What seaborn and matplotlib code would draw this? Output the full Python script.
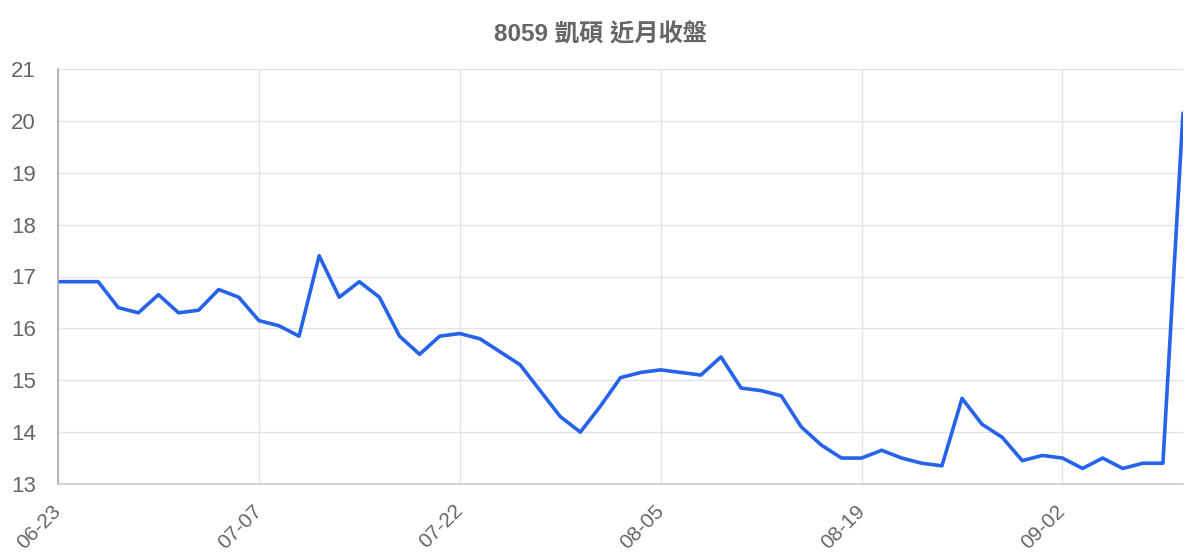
import matplotlib
matplotlib.use("Agg")
import matplotlib.pyplot as plt
import seaborn as sns
import pandas as pd

dates = ["06-23", "06-24", "06-25", "06-26", "06-27",
         "06-30", "07-01", "07-02", "07-03", "07-04",
         "07-07", "07-08", "07-09", "07-10", "07-11",
         "07-14", "07-15", "07-16", "07-17", "07-18",
         "07-22", "07-23", "07-24", "07-25",
         "07-28", "07-29", "07-30", "07-31", "08-01",
         "08-04", "08-05", "08-06", "08-07", "08-08",
         "08-11", "08-12", "08-13", "08-14", "08-15",
         "08-18", "08-19", "08-20", "08-21", "08-22",
         "08-25", "08-26", "08-27", "08-28", "08-29",
         "09-01", "09-02", "09-03", "09-04", "09-05",
         "09-08", "09-09", "09-10"]
closes = [16.9, 16.9, 16.9, 16.4, 16.3, 16.65, 16.3, 16.35, 16.75, 16.6,
          16.15, 16.05, 15.85, 17.4, 16.6, 16.9, 16.6, 15.85, 15.5, 15.85,
          15.9, 15.8, 15.55, 15.3, 14.8, 14.3, 14.0, 14.5, 15.05, 15.15,
          15.2, 15.15, 15.1, 15.45, 14.85, 14.8, 14.7, 14.1, 13.75, 13.5,
          13.5, 13.65, 13.5, 13.4, 13.35, 14.65, 14.15, 13.9, 13.45, 13.55,
          13.5, 13.3, 13.5, 13.3, 13.4, 13.4, 20.15]
title = "8059 凱碩 近月收盤"
y_ticks = [13, 14, 15, 16, 17, 18, 19, 20, 21]

sns.set_theme(style="white")
plt.rcParams["font.family"] = ["Liberation Sans", "Noto Sans CJK TC", "DejaVu Sans"]

df = pd.DataFrame({"idx": range(len(dates)), "date": dates, "close": closes})

fig = plt.figure(figsize=(12, 5.6), dpi=100)
ax = fig.add_axes([58 / 1200, 1 - 484 / 560, (1183 - 58) / 1200, (484 - 69) / 560])

sns.lineplot(data=df, x="idx", y="close", ax=ax, color="#2563eb", linewidth=2.6)

ax.set_xlim(0, len(dates) - 1)
ax.set_ylim(13, 21)
ax.set_yticks(y_ticks)
ax.set_yticklabels([str(v) for v in y_ticks])
xt = list(range(0, len(dates), 10))
ax.set_xticks(xt)
ax.set_xticklabels([dates[i] for i in xt], rotation=45, ha="right", va="center",
                   rotation_mode="anchor")

ax.set_xlabel("")
ax.set_ylabel("")
ax.grid(True, color="#e3e3e3", linewidth=1)
ax.set_axisbelow(True)
for s in ["top", "right"]:
    ax.spines[s].set_visible(False)
ax.spines["left"].set_color("#aaaaaa")
ax.spines["left"].set_linewidth(1.2)
ax.spines["bottom"].set_color("#cccccc")
ax.spines["bottom"].set_linewidth(1.2)

ax.tick_params(axis="y", length=14.4, width=1, color="#e3e3e3", labelsize=16, labelcolor="#666666", pad=1.5)
ax.tick_params(axis="x", length=13.7, width=1, color="#e3e3e3", labelsize=15, labelcolor="#666666", pad=3.5)

fig.text(0.5, 1 - 35 / 560, title, ha="center", va="center", fontsize=17.5, fontweight="bold", color="#666666")

fig.savefig("out.png", dpi=100)
